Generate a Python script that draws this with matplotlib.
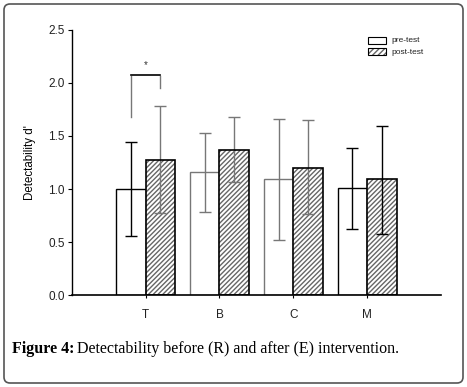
import matplotlib.pyplot as plt
import numpy as np
from matplotlib.patches import FancyBboxPatch, Rectangle

categories = ["T", "B", "C", "M"]
pre_test = [1.00, 1.16, 1.09, 1.01]
pre_upper = [1.44, 1.53, 1.66, 1.39]
pre_lower = [0.56, 0.78, 0.52, 0.62]
post_test = [1.27, 1.37, 1.20, 1.09]
post_upper = [1.78, 1.68, 1.65, 1.59]
post_lower = [0.77, 1.07, 0.76, 0.58]
y_ticks = [0.0, 0.5, 1.0, 1.5, 2.0, 2.5]

plt.rcParams["font.family"] = ["Liberation Sans", "DejaVu Sans"]

fig = plt.figure(figsize=(4.67, 3.87), dpi=100)
ax = fig.add_axes([0.154, 0.2377, 0.790, 0.6848])

x = np.arange(1, len(categories) + 1)
w = 0.4
pre_col = ["black", "#777777", "#777777", "black"]
post_err_col = ["#777777", "#777777", "#777777", "black"]

pre = np.array(pre_test)
post = np.array(post_test)

for i in range(len(categories)):
    ax.bar(x[i] - w / 2, pre[i], w, color="white", edgecolor=pre_col[i], linewidth=1.0, zorder=2)
    ax.errorbar(x[i] - w / 2, pre[i],
                yerr=[[pre[i] - pre_lower[i]], [pre_upper[i] - pre[i]]],
                fmt="none", ecolor=pre_col[i], elinewidth=1.0, capsize=4, capthick=1.0, zorder=3)
    ax.bar(x[i] + w / 2, post[i], w, color="white", edgecolor="#666666", hatch="///////",
           linewidth=0, zorder=2)
    ax.bar(x[i] + w / 2, post[i], w, fill=False, edgecolor="black", linewidth=1.2, zorder=4)
    ax.errorbar(x[i] + w / 2, post[i],
                yerr=[[post[i] - post_lower[i]], [post_upper[i] - post[i]]],
                fmt="none", ecolor=post_err_col[i], elinewidth=1.0, capsize=4, capthick=1.0, zorder=3)

# significance bracket for T
ax.plot([x[0] - w / 2, x[0] - w / 2], [1.68, 2.07], color="#777777", linewidth=1.0, zorder=5)
ax.plot([x[0] + w / 2, x[0] + w / 2], [1.95, 2.07], color="#777777", linewidth=1.0, zorder=5)
ax.plot([x[0] - w / 2, x[0] + w / 2], [2.08, 2.08], color="black", linewidth=1.2, zorder=5)
ax.text(x[0], 2.12, "*", ha="center", va="bottom", fontsize=7, color="#333333")

ax.set_xlim(0, 5)
ax.set_ylim(0, 2.5)
ax.set_yticks(y_ticks)
ax.set_yticklabels([f"{t:.1f}" for t in y_ticks], fontsize=8.5, color="#222222")
ax.set_xticks(x)
ax.set_xticklabels(categories, fontsize=8.5, color="#222222")
ax.tick_params(axis="x", length=2, width=0.8, pad=8)
ax.tick_params(axis="y", length=3, width=0.8, pad=2)
ax.spines["top"].set_visible(False)
ax.spines["right"].set_visible(False)
ax.spines["left"].set_linewidth(1.0)
ax.spines["bottom"].set_linewidth(1.2)
ax.set_ylabel("Detectability d'", fontsize=8.3, labelpad=9)

# overlay axes in pixel coordinates for legend, frame and caption
ov = fig.add_axes([0, 0, 1, 1], facecolor="none")
ov.set_xlim(0, 467)
ov.set_ylim(387, 0)
ov.axis("off")
ov.add_patch(Rectangle((368, 37), 18, 7, facecolor="white", edgecolor="black", linewidth=0.8))
ov.add_patch(Rectangle((368, 48), 18, 7, facecolor="white", edgecolor="#666666", hatch="//////", linewidth=0))
ov.add_patch(Rectangle((368, 48), 18, 7, fill=False, edgecolor="black", linewidth=0.8))
ov.text(391, 41, "pre-test", fontsize=6, va="center", ha="left", color="#222222")
ov.text(391, 52, "post-test", fontsize=6, va="center", ha="left", color="#222222")

ov.add_patch(FancyBboxPatch((4, 4), 459, 379, boxstyle="round,pad=0,rounding_size=6",
                            fill=False, edgecolor="#555555", linewidth=1.2))
ov.text(12, 349, "Figure 4:", fontsize=11.5, fontweight="bold", family="Liberation Serif",
        va="center", ha="left")
ov.text(77, 349, "Detectability before (R) and after (E) intervention.", fontsize=11.5,
        family="Liberation Serif", va="center", ha="left")

fig.savefig("out.png", dpi=100)
